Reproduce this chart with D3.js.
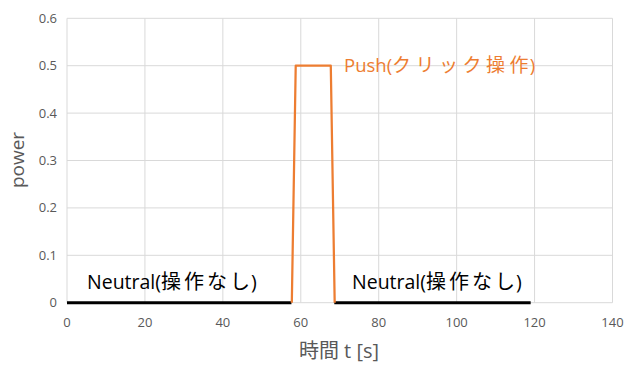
<!DOCTYPE html>
<html><head><meta charset="utf-8">
<script src="https://cdn.jsdelivr.net/npm/d3@7"></script>
<style>body{margin:0;background:#fff}svg{display:block}</style>
</head><body>
<script>
const xTicks = [0,20,40,60,80,100,120,140];
const yTicks = [0,0.1,0.2,0.3,0.4,0.5,0.6];
const neutral1 = [[0,0],[57.6,0]];
const neutral2 = [[68.6,0],[119,0]];
const push = [[57.7,0],[58.7,0.5],[67.7,0.5],[68.7,0]];
const labels = [
  {latin:"Push(", cjk:"クリック操作", end:")", color:"#ED7D31"},
  {latin:"Neutral(", cjk:"操作なし", end:")", color:"#000"},
  {latin:"Neutral(", cjk:"操作なし", end:")", color:"#000"}
];
const W=633,H=365;
const font = "'Open Sans','Noto Sans CJK JP',sans-serif";
const svg = d3.select("body").append("svg").attr("width",W).attr("height",H);
const x = d3.scaleLinear().domain([0,140]).range([67,612.5]);
const y = d3.scaleLinear().domain([0,0.6]).range([302.7,18.3]);
svg.append("g").selectAll("line").data(xTicks).join("line")
  .attr("x1",d=>x(d)).attr("x2",d=>x(d)).attr("y1",y(0)).attr("y2",y(0.6))
  .attr("stroke","#d9d9d9").attr("stroke-width",1);
svg.append("g").selectAll("line").data(yTicks).join("line")
  .attr("x1",x(0)).attr("x2",x(140)).attr("y1",d=>y(d)).attr("y2",d=>y(d))
  .attr("stroke","#d9d9d9").attr("stroke-width",1);
svg.append("g").selectAll("text").data(yTicks).join("text")
  .attr("x",57).attr("y",d=>y(d)).attr("dy","0.35em").attr("text-anchor","end")
  .attr("font-family",font).attr("font-size",13).attr("fill","#595959")
  .text(d=>d===0?"0":d.toFixed(1));
svg.append("g").selectAll("text").data(xTicks).join("text")
  .attr("x",d=>x(d)).attr("y",327).attr("text-anchor","middle")
  .attr("font-family",font).attr("font-size",13).attr("fill","#595959")
  .text(d=>d);
svg.append("text").attr("x",339).attr("y",358).attr("text-anchor","middle")
  .attr("font-family",font).attr("font-size",20).attr("fill","#595959").text("時間 t [s]");
svg.append("text").attr("transform","translate(24,160) rotate(-90)").attr("text-anchor","middle")
  .attr("font-family",font).attr("font-size",19).attr("fill","#595959").text("power");
const line = d3.line().x(d=>x(d[0])).y(d=>y(d[1]));
[neutral1,neutral2].forEach(s=>svg.append("path").attr("d",line(s)).attr("fill","none")
  .attr("stroke","#000").attr("stroke-width",3));
svg.append("path").attr("d",line(push)).attr("fill","none")
  .attr("stroke","#ED7D31").attr("stroke-width",2.25).attr("stroke-linejoin","round");
function label(l, px, py, size, cjkSize, spacing){
  const t = svg.append("text").attr("x",px).attr("y",py)
    .attr("font-family",font).attr("font-size",size).attr("fill",l.color);
  t.append("tspan").text(l.latin);
  t.append("tspan").attr("font-size",cjkSize).attr("letter-spacing",spacing).text(l.cjk.slice(0,-1));
  t.append("tspan").attr("font-size",cjkSize).text(l.cjk.slice(-1));
  t.append("tspan").attr("dx",1).text(l.end);
}
label(labels[0], 344, 72, 18.5, 19, 4.5);
label(labels[1], 87, 289, 19.5, 20, 3);
label(labels[2], 352, 289, 19.5, 20, 3);
</script>
</body></html>
